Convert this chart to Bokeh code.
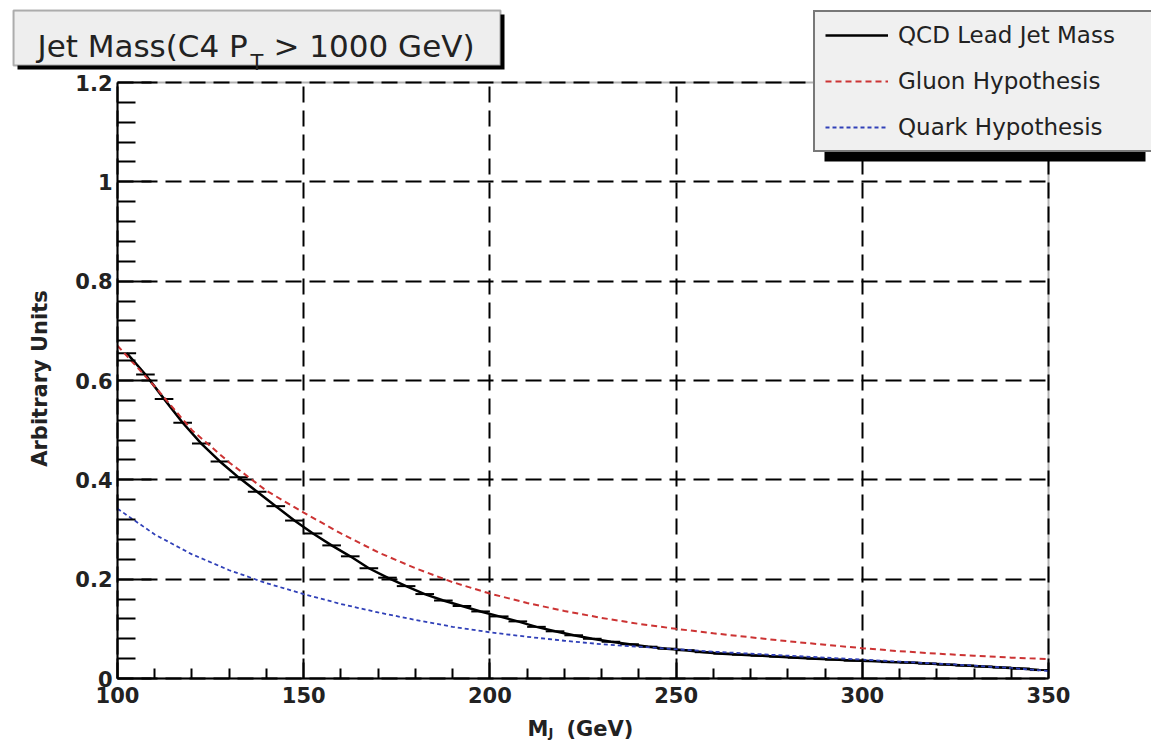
import math
from bokeh.plotting import figure
from bokeh.models import (Range1d, FixedTicker, Label, BoxAnnotation, Legend, LegendItem)
from bokeh.embed import file_html
from bokeh.resources import INLINE

# ---------------- data ----------------
bin_centers = [102.5, 107.5, 112.5, 117.5, 122.5, 127.5, 132.5, 137.5, 142.5, 147.5,
               152.5, 157.5, 162.5, 167.5, 172.5, 177.5, 182.5, 187.5, 192.5, 197.5,
               202.5, 207.5, 212.5, 217.5, 222.5, 227.5, 232.5, 237.5, 242.5, 247.5,
               252.5, 257.5, 262.5, 267.5, 272.5, 277.5, 282.5, 287.5, 292.5, 297.5,
               302.5, 307.5, 312.5, 317.5, 322.5, 327.5, 332.5, 337.5, 342.5, 347.5]
bin_half_width = 2.5
qcd_values = [0.655, 0.612, 0.563, 0.515, 0.473, 0.437, 0.405, 0.376, 0.347, 0.318,
              0.292, 0.268, 0.246, 0.222, 0.203, 0.186, 0.170, 0.157, 0.146, 0.135,
              0.125, 0.115, 0.104, 0.095, 0.087, 0.080, 0.074, 0.069, 0.064, 0.060,
              0.057, 0.053, 0.050, 0.048, 0.046, 0.044, 0.042, 0.040, 0.038, 0.036,
              0.035, 0.033, 0.032, 0.030, 0.028, 0.026, 0.024, 0.022, 0.020, 0.017]

hyp_mass = [100, 110, 120, 130, 140, 150, 160, 170, 180, 190, 200, 210, 220,
            230, 240, 250, 260, 270, 280, 290, 300, 310, 320, 330, 340, 350]
gluon_values = [0.670, 0.588, 0.500, 0.435, 0.378, 0.334, 0.292, 0.254, 0.222, 0.194,
                0.171, 0.152, 0.136, 0.122, 0.110, 0.100, 0.091, 0.083, 0.075, 0.068,
                0.061, 0.055, 0.050, 0.046, 0.042, 0.039]
quark_values = [0.342, 0.290, 0.250, 0.218, 0.192, 0.170, 0.150, 0.133, 0.118, 0.104,
                0.093, 0.084, 0.076, 0.069, 0.064, 0.059, 0.054, 0.050, 0.046, 0.042,
                0.038, 0.034, 0.030, 0.026, 0.021, 0.015]

x_ticks = [100, 150, 200, 250, 300, 350]
x_minor_ticks = [110, 120, 130, 140, 160, 170, 180, 190, 210, 220, 230, 240,
                 260, 270, 280, 290, 310, 320, 330, 340]
y_ticks = [0, 0.2, 0.4, 0.6, 0.8, 1, 1.2]
y_tick_labels = ["0", "0.2", "0.4", "0.6", "0.8", "1", "1.2"]
y_minor_ticks = [0.04, 0.08, 0.12, 0.16, 0.24, 0.28, 0.32, 0.36, 0.44, 0.48, 0.52, 0.56,
                 0.64, 0.68, 0.72, 0.76, 0.84, 0.88, 0.92, 0.96, 1.04, 1.08, 1.12, 1.16]

legend_labels = ["QCD Lead Jet Mass", "Gluon Hypothesis", "Quark Hypothesis"]
title_parts = ["Jet Mass(C4 P", "T", "> 1000 GeV)"]
xlabel_parts = ["M", "J", "(GeV)"]
ylabel = "Arbitrary Units"

# ---------------- layout ----------------
W, H = 1151, 743
X0, X1, Y0, Y1 = 100, 350, 0, 1.2
FL, FR, FT, FB = 117, 1048, 82, 678   # where the data box sits, canvas pixels
ppx = (FR - FL) / (X1 - X0)
ppy = (FB - FT) / (Y1 - Y0)
x_range = Range1d(X0 - FL / ppx, X1 + (W - FR) / ppx)
y_range = Range1d(Y0 - (H - FB) / ppy, Y1 + FT / ppy)


def sx(X):
    return X


def sy(Y):
    return H - Y


p = figure(width=W, height=H, x_range=x_range, y_range=y_range,
           output_backend="svg", toolbar_location=None, title=None,
           min_border_left=0, min_border_right=0, min_border_top=0, min_border_bottom=0)
p.background_fill_color = "white"
p.border_fill_color = "white"
p.outline_line_color = None

xt = FixedTicker(ticks=x_ticks, minor_ticks=x_minor_ticks)
yt = FixedTicker(ticks=y_ticks, minor_ticks=y_minor_ticks)
p.xaxis.ticker = xt
p.yaxis.ticker = yt
p.xgrid.ticker = xt
p.ygrid.ticker = yt
p.yaxis.major_label_overrides = dict(zip(y_ticks, y_tick_labels))
p.xaxis.fixed_location = Y0
p.yaxis.fixed_location = X0
p.xaxis.bounds = (X0, X1)
p.yaxis.bounds = (Y0, Y1)

grid_ok = True
try:
    p.xgrid.bounds = (X0, X1)
    p.ygrid.bounds = (Y0, Y1)
    p.xgrid.cross_bounds = (Y0, Y1)
    p.ygrid.cross_bounds = (X0, X1)
except Exception:
    grid_ok = False

for g in (p.xgrid, p.ygrid):
    g.grid_line_color = "black" if grid_ok else None
    g.grid_line_dash = "16 8"
    g.grid_line_width = 2
    g.grid_line_alpha = 1

if not grid_ok:
    p.segment(x0=x_ticks, y0=[Y0] * len(x_ticks), x1=x_ticks, y1=[Y1] * len(x_ticks),
              line_color="black", line_width=2, line_dash="16 8")
    p.segment(x0=[X0] * len(y_ticks), y0=y_ticks, x1=[X1] * len(y_ticks), y1=y_ticks,
              line_color="black", line_width=2, line_dash="16 8")

for ax in (p.xaxis, p.yaxis):
    ax.axis_line_width = 2
    ax.major_tick_line_width = 2
    ax.minor_tick_line_width = 2
    ax.major_tick_out = 0
    ax.minor_tick_out = 0
    ax.major_label_text_font = "DejaVu Sans"
    ax.major_label_text_font_style = "bold"
    ax.major_label_text_font_size = "21px"
    ax.major_label_text_color = "#222222"

p.xaxis.major_tick_in = 20
p.xaxis.minor_tick_in = 10
p.xaxis.major_label_standoff = 8
p.yaxis.major_tick_in = 34
p.yaxis.minor_tick_in = 18
p.yaxis.major_label_standoff = 5

# ---------------- data glyphs ----------------
qcd_line = p.line(bin_centers, qcd_values, line_color="black", line_width=2.5)
p.segment(x0=[c - bin_half_width for c in bin_centers], y0=qcd_values,
          x1=[c + bin_half_width for c in bin_centers], y1=qcd_values,
          line_color="black", line_width=2)
gluon_line = p.line(hyp_mass, gluon_values, line_color="#cc3333", line_width=2,
                    line_dash="6 4")
quark_line = p.line(hyp_mass, quark_values, line_color="#3040b8", line_width=1.8,
                    line_dash="4 3")

# frame of the data box
p.add_layout(BoxAnnotation(left=X0, right=X1, bottom=Y0, top=Y1, fill_alpha=0,
                           line_color="black", line_width=2))


def screen_box(left, top, right, bottom, **kw):
    return BoxAnnotation(left=sx(left), right=sx(right), top=sy(top), bottom=sy(bottom),
                         left_units="screen", right_units="screen",
                         top_units="screen", bottom_units="screen", **kw)


def screen_label(X, Y, text, size, align="left", style="normal", angle=0.0):
    return Label(x=sx(X), y=sy(Y), x_units="screen", y_units="screen", text=text,
                 angle=angle, text_font="DejaVu Sans", text_font_style=style,
                 text_font_size=size, text_color="#222222", text_align=align,
                 text_baseline="alphabetic")


# ---------------- title box ----------------
p.add_layout(screen_box(17, 14, 504, 69, fill_color="black", fill_alpha=1, line_alpha=0))
p.add_layout(screen_box(13, 10, 500, 65, fill_color="#eeeeee", fill_alpha=1,
                        line_color="black", line_width=2))
p.add_layout(screen_label(37, 45, title_parts[0], "31px"))
p.add_layout(screen_label(250, 62, title_parts[1], "21px"))
p.add_layout(screen_label(474, 45, title_parts[2], "31px", align="right"))

# ---------------- axis titles ----------------
p.add_layout(screen_label(39, 378, ylabel, "21px", align="center", style="bold",
                          angle=math.pi / 2))
p.add_layout(screen_label(527, 728, xlabel_parts[0], "21px", style="bold"))
p.add_layout(screen_label(548, 732, xlabel_parts[1], "13px", style="bold"))
p.add_layout(screen_label(566, 728, xlabel_parts[2], "21px", style="bold"))

# ---------------- legend ----------------
p.add_layout(screen_box(824, 22, 1145, 161, fill_color="black", fill_alpha=1, line_alpha=0))
legend = Legend(items=[LegendItem(label=legend_labels[0], renderers=[qcd_line]),
                       LegendItem(label=legend_labels[1], renderers=[gluon_line]),
                       LegendItem(label=legend_labels[2], renderers=[quark_line])],
                location=(sx(813), sy(152)))
legend.label_text_font = "DejaVu Sans"
legend.label_text_font_size = "23px"
legend.label_text_color = "#222222"
legend.glyph_width = 63
legend.glyph_height = 20
legend.label_height = 20
legend.label_width = 270
legend.label_standoff = 10
legend.spacing = 20
legend.padding = 10
legend.margin = 0
legend.border_line_color = "black"
legend.border_line_width = 2
legend.background_fill_color = "#f0f0f0"
legend.background_fill_alpha = 1
p.add_layout(legend, "center")

open("out.html", "w").write(file_html(p, INLINE))
